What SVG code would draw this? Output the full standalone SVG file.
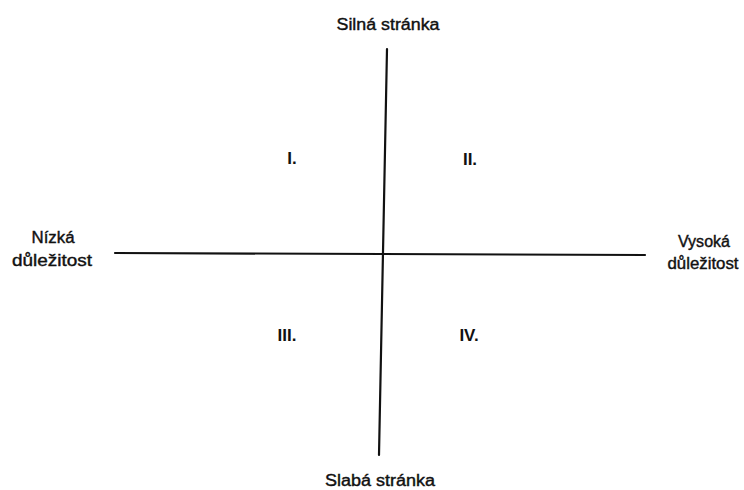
<svg xmlns="http://www.w3.org/2000/svg" width="744" height="490" viewBox="0 0 744 490">
<style>
.t{font-family:"Liberation Sans",Arial,sans-serif;font-size:16px;fill:#111;text-anchor:middle;stroke:#111;stroke-width:0.4}
.r{font-family:"Liberation Sans",Arial,sans-serif;font-size:17px;font-weight:bold;fill:#111;text-anchor:middle}
.ax{stroke:#111;stroke-width:2.2;fill:none;stroke-linecap:round}
</style>
<rect width="744" height="490" fill="#fff"/>
<g id="connectors">
<line class="ax" x1="387" y1="49" x2="379" y2="455"/>
<line class="ax" x1="115" y1="253" x2="645" y2="255"/>
</g>
<g id="top"><text class="t" x="388" y="30" textLength="103" lengthAdjust="spacingAndGlyphs">Silná stránka</text></g>
<g id="bottom"><text class="t" x="380" y="486" textLength="110" lengthAdjust="spacingAndGlyphs">Slabá stránka</text></g>
<g id="left"><text class="t" x="53" y="243" textLength="43" lengthAdjust="spacingAndGlyphs">Nízká</text><text class="t" x="52" y="266" textLength="80" lengthAdjust="spacingAndGlyphs">důležitost</text></g>
<g id="right"><text class="t" x="704" y="247" textLength="52" lengthAdjust="spacingAndGlyphs">Vysoká</text><text class="t" x="703" y="269" textLength="71" lengthAdjust="spacingAndGlyphs">důležitost</text></g>
<g id="q1"><text class="r" x="292" y="164">I.</text></g>
<g id="q2"><text class="r" x="470" y="165">II.</text></g>
<g id="q3"><text class="r" x="287" y="341">III.</text></g>
<g id="q4"><text class="r" x="469" y="341">IV.</text></g>
</svg>
